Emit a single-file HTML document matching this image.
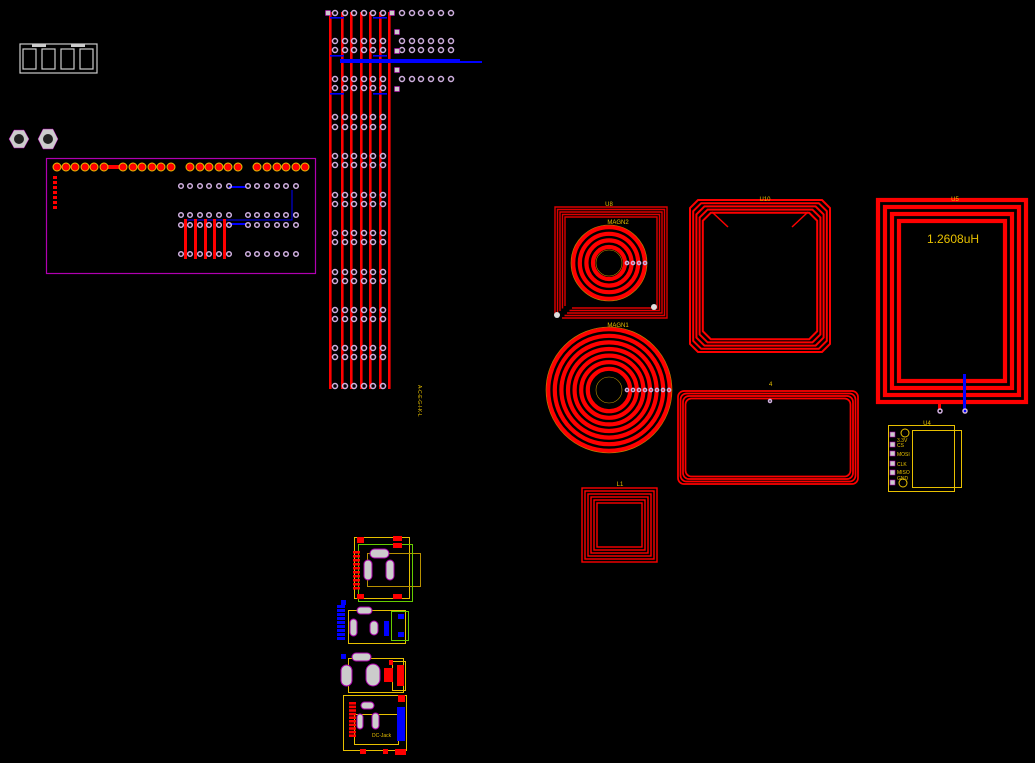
<!DOCTYPE html>
<html><head><meta charset="utf-8"><style>
html,body{margin:0;padding:0;background:#000;width:1035px;height:763px;overflow:hidden}
svg{display:block}
text{font-family:"Liberation Sans",sans-serif;fill:#e8c000}
</style></head><body>
<svg id="s" width="1035" height="763" viewBox="0 0 1035 763" xmlns="http://www.w3.org/2000/svg">
<rect width="1035" height="763" fill="#000"/>
<rect x="20" y="44" width="77" height="29" fill="none" stroke="#ccc" stroke-width="1.2"/>
<g fill="none" stroke="#ccc" stroke-width="1.2">
<rect x="23" y="49" width="13" height="20"/><rect x="42" y="49" width="13" height="20"/><rect x="61" y="49" width="13" height="20"/><rect x="80" y="49" width="13" height="20"/>
</g>
<rect x="32" y="44" width="14" height="3" fill="#ccc"/><rect x="71" y="44" width="14" height="3" fill="#ccc"/>
<polygon points="14,130 24,130 29,139 24,148 14,148 9,139" fill="#ccc" stroke="#a0a" stroke-width="0.5"/><circle cx="19" cy="139" r="5" fill="#222"/>
<polygon points="43,129 53,129 58,139 53,149 43,149 38,139" fill="#ccc" stroke="#a0a" stroke-width="0.5"/><circle cx="48" cy="139" r="5" fill="#222"/>
<rect x="46.5" y="158.5" width="269" height="115" fill="none" stroke="#b000b0" stroke-width="1.2"/>
<rect x="105" y="165" width="20" height="4" fill="#f00"/>
<g id="mag"></g>
<g id="hdr"></g>
<rect x="340" y="59" width="120" height="4" fill="#0000ff"/><rect x="460" y="61" width="22" height="2" fill="#0000ff"/>
<text x="418" y="385" font-size="5" transform="rotate(90 418 385)">A-C-E-G-I-K-L</text>
<g id="coils"></g>
<text x="609" y="206" font-size="6" text-anchor="middle">U8</text>
<text x="618" y="224" font-size="6" text-anchor="middle">MAGN2</text>
<text x="618" y="327" font-size="6" text-anchor="middle">MAGN1</text>
<text x="765" y="201" font-size="6" text-anchor="middle">U10</text>
<text x="955" y="201" font-size="6" text-anchor="middle">U5</text>
<text x="927" y="243" font-size="12">1.2608uH</text>
<text x="769" y="386" font-size="6">4</text>
<text x="620" y="486" font-size="6" text-anchor="middle">L1</text>
<text x="927" y="425" font-size="6" text-anchor="middle">U4</text>
<rect x="888.5" y="425.5" width="66" height="66" fill="none" stroke="#e8c000"/>
<rect x="912.5" y="430.5" width="49" height="57" fill="none" stroke="#e8c000"/>
<circle cx="905" cy="433" r="4" fill="none" stroke="#e8c000"/><circle cx="903" cy="483" r="4" fill="none" stroke="#e8c000"/>
<g fill="#ccc" stroke="#a0a" stroke-width="0.6">
<rect x="890" y="432" width="5" height="5"/><rect x="890" y="442" width="5" height="5"/><rect x="890" y="451" width="5" height="5"/><rect x="890" y="461" width="5" height="5"/><rect x="890" y="470" width="5" height="5"/><rect x="890" y="480" width="5" height="5"/>
</g>
<g font-size="5"><text x="897" y="442">3.3V</text><text x="897" y="447">CS</text><text x="897" y="456">MOSI</text><text x="897" y="466">CLK</text><text x="897" y="474">MISO</text><text x="897" y="480">GND</text></g>
<g id="bot"></g>
<g font-size="5"><text x="372" y="737">DC-Jack</text></g>
</svg>
<script>
const NS="http://www.w3.org/2000/svg";
function el(p,t,a){const e=document.createElementNS(NS,t);for(const k in a)e.setAttribute(k,a[k]);document.getElementById(p).appendChild(e);return e;}
function pad(p,x,y,r){el(p,'circle',{cx:x,cy:y,r:r||2.5,fill:'none',stroke:'#d0b0e0','stroke-width':1.5});}
let ox=[57,66,75,85,94,104,123,133,142,152,161,171,190,200,209,219,228,238,257,267,277,286,296,305];
ox.forEach(x=>el('mag','circle',{cx:x,cy:167,r:4,fill:'#f00',stroke:'#e8c000','stroke-width':1}));
for(let i=0;i<7;i++)el('mag','rect',{x:53,y:176+i*5,width:4,height:3,fill:'#f00'});
el('mag','rect',{x:229,y:186,width:17,height:2,fill:'#00f'});
el('mag','rect',{x:229,y:223,width:17,height:2,fill:'#00f'});
el('mag','path',{d:'M185 220H292V190',fill:'none',stroke:'#00f','stroke-width':1});
[185,195,205,214,224].forEach(x=>el('mag','rect',{x:x-1,y:219,width:3,height:40,fill:'#f00'}));
let px=[181,190,200,209,219,229,248,257,267,277,286,296];
[186,215,225,254].forEach(y=>px.forEach(x=>pad('mag',x,y,2.3)));
[330,342,351,361,370,380,389].forEach(x=>el('hdr','rect',{x:x-1,y:12,width:2.6,height:377,fill:'#f00'}));
let cx=[335,345,354,364,373,383];
let rows=[13,41,50,79,88,117,127,156,165,195,204,233,242,272,281,310,319,348,357,386];
rows.forEach(y=>cx.forEach(x=>pad('hdr',x,y,2.5)));
[13,41,50,79].forEach(y=>[402,412,421,431,441,451].forEach(x=>pad('hdr',x,y,2.5)));
[[328,13],[392,13],[397,32],[397,51],[397,70],[397,89]].forEach(p=>el('hdr','rect',{x:p[0]-2.5,y:p[1]-2.5,width:5,height:5,fill:'#ccc',stroke:'#a0a','stroke-width':0.6}));
[[330,17,14],[373,17,14],[330,55,14],[373,55,14],[330,93,14],[373,93,14]].forEach(p=>el('hdr','rect',{x:p[0],y:p[1],width:p[2],height:1.6,fill:'#00f'}));
function ring(cx,cy,rmax,n,rin){for(let i=0;i<n;i++)el('coils','circle',{cx:cx,cy:cy,r:rmax-2.2-i*6.6,fill:'none',stroke:'#f00','stroke-width':4.2});
el('coils','circle',{cx:cx,cy:cy,r:rmax,fill:'none',stroke:'#b89000','stroke-width':0.6});
el('coils','circle',{cx:cx,cy:cy,r:rin,fill:'none',stroke:'#b89000','stroke-width':0.6});}
ring(609,390,63,7,13);ring(609,263,38,4,13);
[627,633,639,645].forEach(x=>pad('coils',x,263,1.6));
[627,633,639,645,651,657,663,669].forEach(x=>pad('coils',x,390,1.6));
for(let i=0;i<5;i++){let d=i*2.5;el('coils','path',{d:`M${555+d} ${316-d}V${207+d}H${667-d}V${318-d}H${562+d}`,fill:'none',stroke:'#d00','stroke-width':1.4});}
el('coils','circle',{cx:557,cy:315,r:3,fill:'#ddd'});el('coils','circle',{cx:654,cy:307,r:3,fill:'#ddd'});
for(let i=0;i<5;i++){let d=i*3.2,x1=690+d,y1=200+d,x2=830-d,y2=352-d,c=8;
el('coils','path',{d:`M${x1+c} ${y1}H${x2-c}L${x2} ${y1+c}V${y2-c}L${x2-c} ${y2}H${x1+c}L${x1} ${y2-c}V${y1+c}Z`,fill:'none',stroke:'#f00','stroke-width':2});}
el('coils','path',{d:'M712 212L728 227M808 212L792 227',stroke:'#f00','stroke-width':1.5});
for(let i=0;i<4;i++){let d=i*7;el('coils','rect',{x:878+d,y:200+d,width:148-2*d,height:202-2*d,fill:'none',stroke:'#f00','stroke-width':4.2});}
el('coils','rect',{x:963,y:374,width:3,height:38,fill:'#00f'});
el('coils','rect',{x:938,y:400,width:3,height:10,fill:'#f00'});
pad('coils',940,411,2);pad('coils',965,411,2);
for(let i=0;i<4;i++){let d=i*2.5;el('coils','rect',{x:678+d,y:391+d,width:180-2*d,height:93-2*d,rx:6,fill:'none',stroke:'#f00','stroke-width':1.7});}
pad('coils',770,401,1.5);
for(let i=0;i<6;i++){let d=i*3;el('coils','rect',{x:582+d,y:488+d,width:75-2*d,height:74-2*d,fill:'none',stroke:'#f00','stroke-width':1.4});}
function R(x,y,w,h,f,s){el('bot','rect',{x:x,y:y,width:w,height:h,fill:f||'none',stroke:s||'none','stroke-width':1});}
function slot(x,y,w,h){el('bot','rect',{x:x,y:y,width:w,height:h,rx:Math.min(w,h)/2,fill:'#ccc',stroke:'#a0a'});}
R(354.5,537.5,55,61,'none','#e8c000');R(367.5,553.5,53,33,'none','#b89000');R(358.5,544.5,54,57,'none','#6c0');
slot(370,549,19,9);slot(364,560,8,20);slot(386,560,8,20);
for(let i=0;i<10;i++)R(353,551+i*4,7,2.5,'#f00');R(357,537,7,6,'#f00');R(393,536,9,5,'#f00');R(393,543,9,5,'#f00');R(357,594,7,5,'#f00');R(393,594,9,5,'#f00');
R(348.5,610.5,57,33,'none','#e8c000');R(391.5,611.5,17,29,'none','#6c0');
for(let i=0;i<9;i++)R(337,605+i*4,8,3,'#00f');
slot(357,607,15,7);slot(350,619,7,17);slot(370,621,8,14);R(384,621,5,15,'#00f');R(341,600,5,5,'#00f');R(341,654,5,5,'#00f');R(398,614,6,5,'#00f');R(398,632,6,5,'#00f');
R(348.5,658.5,55,34,'none','#e8c000');R(392.5,661.5,13,29,'none','#e8c000');
slot(352,653,19,8);slot(341,665,11,21);slot(366,664,14,22);R(384,668,9,14,'#f00');R(397,665,7,21,'#f00');R(389,660,4,5,'#f00');
R(343.5,695.5,63,55,'none','#e8c000');R(354.5,714.5,44,30,'none','#e8c000');
for(let i=0;i<10;i++)R(349,702+i*3.6,7,2.6,'#f00');slot(361,702,13,7);slot(357,714,6,15);slot(372,713,7,16);
R(397,707,8,34,'#00f');R(398,695,7,7,'#f00');R(360,749,6,5,'#f00');R(383,749,5,5,'#f00');R(395,749,11,6,'#f00');
</script>
</body></html>
